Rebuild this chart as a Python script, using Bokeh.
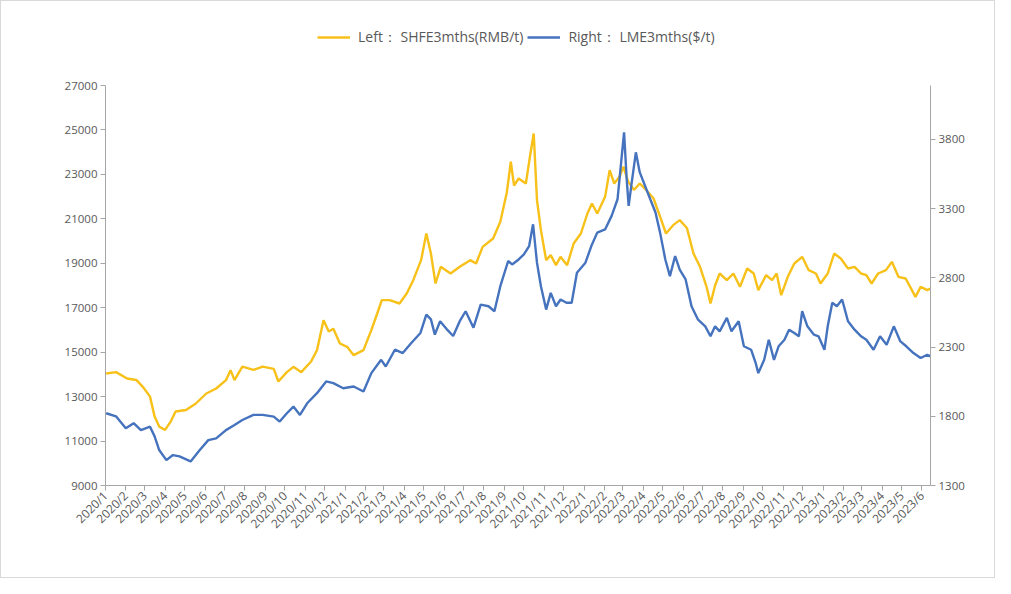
import math
import pandas as pd
from bokeh.plotting import figure
from bokeh.models import (Range1d, LinearAxis, FixedTicker, CustomJSTickFormatter,
                          Legend, LegendItem)
from bokeh.embed import file_html
from bokeh.resources import INLINE

# ---------------- data ----------------
shfe_dates = [
    "2020-01-02", "2020-01-17", "2020-02-03", "2020-02-17", "2020-02-27", "2020-03-09", "2020-03-16",
    "2020-03-23", "2020-04-01", "2020-04-10", "2020-04-17", "2020-05-03", "2020-05-18", "2020-06-03",
    "2020-06-18", "2020-07-03", "2020-07-10", "2020-07-16", "2020-07-28", "2020-08-14", "2020-08-28",
    "2020-09-14", "2020-09-21", "2020-10-04", "2020-10-14", "2020-10-26", "2020-11-10", "2020-11-19",
    "2020-11-29", "2020-12-07", "2020-12-14", "2020-12-24", "2021-01-04", "2021-01-14", "2021-01-29",
    "2021-02-10", "2021-02-19", "2021-02-26", "2021-03-10", "2021-03-25", "2021-04-05", "2021-04-15",
    "2021-04-27", "2021-05-05", "2021-05-12", "2021-05-19", "2021-05-27", "2021-06-11", "2021-06-25",
    "2021-07-11", "2021-07-20", "2021-07-30", "2021-08-15", "2021-08-26", "2021-09-05", "2021-09-11",
    "2021-09-16", "2021-09-23", "2021-10-04", "2021-10-11", "2021-10-16", "2021-10-21", "2021-10-27",
    "2021-11-04", "2021-11-11", "2021-11-19", "2021-11-26", "2021-12-06", "2021-12-16", "2021-12-27",
    "2022-01-06", "2022-01-13", "2022-01-21", "2022-02-02", "2022-02-09", "2022-02-16", "2022-02-24",
    "2022-03-02", "2022-03-09", "2022-03-18", "2022-03-27", "2022-04-06", "2022-04-17", "2022-04-27",
    "2022-05-06", "2022-05-17", "2022-05-27", "2022-06-07", "2022-06-17", "2022-06-27", "2022-07-07",
    "2022-07-13", "2022-07-20", "2022-07-27", "2022-08-07", "2022-08-17", "2022-08-27", "2022-09-07",
    "2022-09-17", "2022-09-24", "2022-10-06", "2022-10-15", "2022-10-22", "2022-10-29", "2022-11-08",
    "2022-11-18", "2022-11-30", "2022-12-10", "2022-12-21", "2022-12-28", "2023-01-08", "2023-01-18",
    "2023-01-28", "2023-02-08", "2023-02-18", "2023-02-28", "2023-03-08", "2023-03-16", "2023-03-26",
    "2023-04-07", "2023-04-16", "2023-04-26", "2023-05-07", "2023-05-14", "2023-05-22", "2023-05-30",
    "2023-06-09", "2023-06-14",
]
shfe_values = [
    14040, 14100, 13815, 13750, 13440, 13000, 12100,
    11650, 11500, 11900, 12330, 12400, 12690, 13140,
    13365, 13740, 14190, 13740, 14350, 14200, 14350,
    14250, 13680, 14100, 14340, 14100, 14580, 15090,
    16440, 15930, 16050, 15390, 15240, 14865, 15090,
    15990, 16740, 17340, 17340, 17190, 17640, 18240,
    19140, 20340, 19440, 18090, 18840, 18540, 18840,
    19140, 18990, 19740, 20115, 20865, 22200, 23570,
    22500, 22815, 22590, 23940, 24840, 21840, 20490,
    19140, 19365, 18915, 19290, 18915, 19890, 20340,
    21240, 21690, 21240, 21990, 23190, 22590, 22890,
    23350, 22700, 22300, 22590, 22290, 21915, 21100,
    20340, 20715, 20940, 20590, 19440, 18840, 17940,
    17190, 18000, 18540, 18240, 18540, 17940, 18765,
    18540, 17790, 18465, 18240, 18540, 17565, 18390,
    18990, 19290, 18690, 18540, 18090, 18540, 19440,
    19215, 18765, 18840, 18540, 18465, 18090, 18540,
    18690, 19065, 18390, 18315, 17940, 17490, 17940,
    17790, 17865,
]

lme_dates = [
    "2020-01-02", "2020-01-17", "2020-02-01", "2020-02-13", "2020-02-24", "2020-03-09", "2020-03-16",
    "2020-03-23", "2020-04-03", "2020-04-13", "2020-04-23", "2020-05-10", "2020-05-24", "2020-06-06",
    "2020-06-18", "2020-07-03", "2020-07-16", "2020-07-28", "2020-08-14", "2020-08-28", "2020-09-14",
    "2020-09-23", "2020-10-04", "2020-10-14", "2020-10-24", "2020-11-04", "2020-11-19", "2020-12-03",
    "2020-12-14", "2020-12-29", "2021-01-14", "2021-01-29", "2021-02-10", "2021-02-25", "2021-03-04",
    "2021-03-18", "2021-03-30", "2021-04-12", "2021-04-26", "2021-05-05", "2021-05-12", "2021-05-18",
    "2021-05-26", "2021-06-05", "2021-06-15", "2021-06-25", "2021-07-04", "2021-07-16", "2021-07-27",
    "2021-08-08", "2021-08-17", "2021-08-26", "2021-09-07", "2021-09-13", "2021-09-23", "2021-10-01",
    "2021-10-09", "2021-10-15", "2021-10-21", "2021-10-27", "2021-11-04", "2021-11-11", "2021-11-19",
    "2021-11-26", "2021-12-05", "2021-12-13", "2021-12-21", "2022-01-03", "2022-01-12", "2022-01-21",
    "2022-02-02", "2022-02-12", "2022-02-21", "2022-03-03", "2022-03-07", "2022-03-10", "2022-03-14",
    "2022-03-21", "2022-03-27", "2022-04-05", "2022-04-12", "2022-04-20", "2022-04-27", "2022-05-05",
    "2022-05-12", "2022-05-20", "2022-05-27", "2022-06-05", "2022-06-14", "2022-06-24", "2022-07-05",
    "2022-07-13", "2022-07-20", "2022-07-27", "2022-08-07", "2022-08-14", "2022-08-25", "2022-09-02",
    "2022-09-13", "2022-09-20", "2022-09-24", "2022-10-03", "2022-10-10", "2022-10-18", "2022-10-25",
    "2022-11-03", "2022-11-10", "2022-11-18", "2022-11-25", "2022-11-30", "2022-12-08", "2022-12-18",
    "2022-12-25", "2023-01-03", "2023-01-08", "2023-01-15", "2023-01-22", "2023-01-30", "2023-02-08",
    "2023-02-18", "2023-02-28", "2023-03-08", "2023-03-19", "2023-03-29", "2023-04-08", "2023-04-19",
    "2023-04-29", "2023-05-08", "2023-05-19", "2023-05-30", "2023-06-09", "2023-06-14",
]
lme_values = [
    1822, 1800, 1713, 1750, 1700, 1725, 1655,
    1556, 1483, 1520, 1510, 1474, 1556, 1628,
    1640, 1700, 1737, 1773, 1810, 1810, 1798,
    1762, 1822, 1870, 1810, 1894, 1967, 2052,
    2040, 2003, 2015, 1979, 2112, 2208, 2160,
    2281, 2257, 2330, 2402, 2535, 2500, 2390,
    2487, 2430, 2380, 2487, 2559, 2440, 2607,
    2595, 2559, 2740, 2922, 2897, 2933, 2970,
    3030, 3187, 2910, 2740, 2571, 2692, 2595,
    2644, 2620, 2620, 2837, 2910, 3030, 3127,
    3150, 3248, 3368, 3852, 3513, 3320, 3465,
    3707, 3562, 3453, 3368, 3272, 3127, 2933,
    2813, 2958, 2860, 2789, 2595, 2498, 2450,
    2378, 2450, 2414, 2511, 2414, 2487, 2306,
    2281, 2185, 2112, 2208, 2353, 2208, 2306,
    2353, 2426, 2402, 2378, 2559, 2450, 2390,
    2378, 2281, 2450, 2620, 2595, 2644, 2487,
    2426, 2378, 2353, 2281, 2378, 2317, 2450,
    2341, 2306, 2257, 2221, 2245, 2233,
]

month_ticks = pd.date_range("2020-01-01", "2023-06-01", freq="MS")
left_ticks = list(range(9000, 27001, 2000))
right_ticks = list(range(1300, 3801, 500))

legend_labels = ["Left\uff1a SHFE3mths(RMB/t)", "Right\uff1a LME3mths($/t)"]

# ---------------- figure ----------------
YELLOW = "#F7C11A"
BLUE = "#4673BE"
TXT = "#595959"
AX = "#A6A6A6"
FONT = "Open Sans"

# frame spans from 4px below the top of the figure to the x axis;
# the visible axes are bounded to the data area (27000 / 4190 at 84px from the top)
TOP_PAD = 4
LEFT_MIN, LEFT_MAX = 9000, 27000
RIGHT_MIN, RIGHT_MAX = 1300, 4190
extra_px = 84 - TOP_PAD
left_top = LEFT_MAX + extra_px * (LEFT_MAX - LEFT_MIN) / 400
right_top = RIGHT_MAX + extra_px * (RIGHT_MAX - RIGHT_MIN) / 400

p = figure(width=995, height=578, x_axis_type="datetime",
           output_backend="svg", toolbar_location=None,
           x_range=Range1d(pd.Timestamp("2020-01-01"), pd.Timestamp("2023-06-14")),
           y_range=Range1d(LEFT_MIN, left_top),
           min_border_left=104, min_border_right=66, min_border_top=TOP_PAD,
           min_border_bottom=94)
p.extra_y_ranges = {"right": Range1d(RIGHT_MIN, right_top)}
p.outline_line_color = None
p.xgrid.visible = False
p.ygrid.visible = False
p.background_fill_color = "white"
p.border_fill_color = "white"

r1 = p.line(pd.to_datetime(shfe_dates), shfe_values, line_color=YELLOW, line_width=2.4)
r2 = p.line(pd.to_datetime(lme_dates), lme_values, line_color=BLUE, line_width=2.4,
            y_range_name="right")

def style_axis(ax):
    ax.axis_line_color = AX
    ax.major_tick_line_color = AX
    ax.minor_tick_line_color = None
    ax.major_tick_in = 0
    ax.major_tick_out = 5
    ax.major_label_text_color = TXT
    ax.major_label_text_font = FONT
    ax.major_label_text_font_size = "11.5px"
    ax.major_label_standoff = 3

xa = p.xaxis[0]
style_axis(xa)
xa.ticker = FixedTicker(ticks=[t.value // 10**6 for t in month_ticks])
xa.formatter = CustomJSTickFormatter(code="""
    const d = new Date(tick);
    return d.getUTCFullYear() + "/" + (d.getUTCMonth() + 1);
""")
xa.major_label_orientation = math.pi / 4
xa.major_label_text_font_size = "12px"

ya = p.yaxis[0]
style_axis(ya)
ya.ticker = FixedTicker(ticks=left_ticks)
ya.bounds = (LEFT_MIN, LEFT_MAX)

yr = LinearAxis(y_range_name="right", ticker=FixedTicker(ticks=right_ticks))
style_axis(yr)
yr.bounds = (RIGHT_MIN, RIGHT_MAX)
p.add_layout(yr, "right")

legend = Legend(items=[LegendItem(label=legend_labels[0], renderers=[r1]),
                       LegendItem(label=legend_labels[1], renderers=[r2])],
                orientation="horizontal", location=(212, 438),
                label_text_font=FONT, label_text_font_size="14px",
                label_text_color=TXT, glyph_width=33, glyph_height=14,
                spacing=4, padding=4, label_standoff=8,
                border_line_color=None, background_fill_alpha=0)
p.add_layout(legend, "center")

p.styles = {"border": "1px solid #D9D9D9"}

open("out.html", "w").write(file_html(p, INLINE))
